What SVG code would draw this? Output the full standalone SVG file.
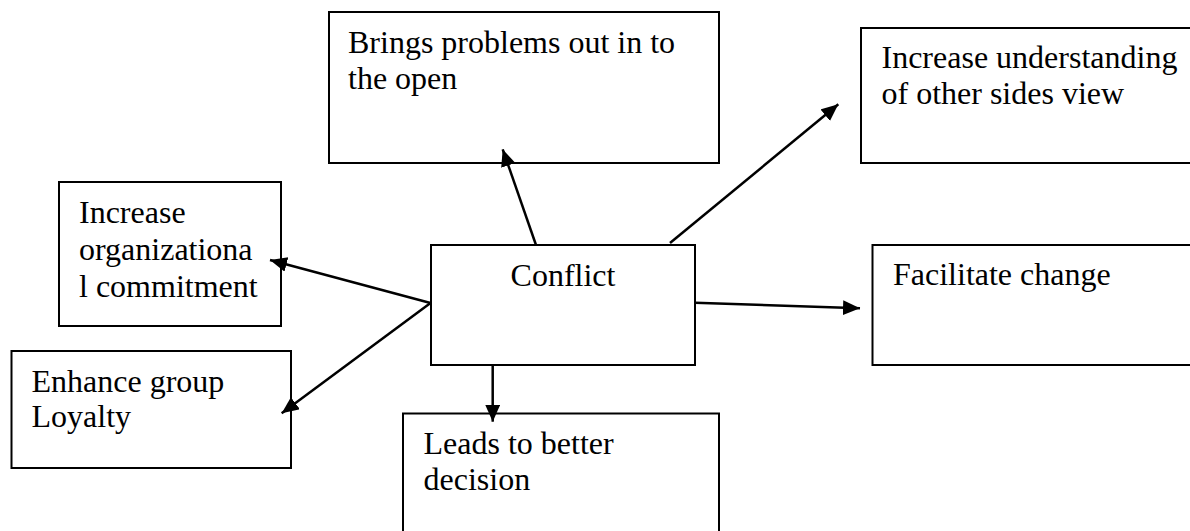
<svg xmlns="http://www.w3.org/2000/svg" width="1190" height="531" viewBox="0 0 1190 531">
  <style>
    .box { fill: #ffffff; stroke: #000000; stroke-width: 2; }
    .lbl { font-family: "Liberation Serif", "Times New Roman", serif; font-size: 32px; fill: #000000; }
    .conn { stroke: #000000; stroke-width: 2.5; fill: none; marker-end: url(#arrow); }
  </style>
  <defs>
    <marker id="arrow" markerUnits="userSpaceOnUse" markerWidth="20" markerHeight="16" refX="17" refY="7.5" orient="auto">
      <path d="M0,0 L17,7.5 L0,15 z" fill="#000000"/>
    </marker>
  </defs>
  <rect width="1190" height="531" fill="#ffffff"/>

  <g id="node-brings">
    <rect class="box" x="329" y="12" width="390" height="151"/>
    <text class="lbl" x="348" y="53">Brings problems out in to</text>
    <text class="lbl" x="348" y="89">the open</text>
  </g>

  <g id="node-understanding">
    <rect class="box" x="861" y="28" width="340" height="135"/>
    <text class="lbl" x="881.5" y="68">Increase understanding</text>
    <text class="lbl" x="881.5" y="104">of other sides view</text>
  </g>

  <g id="node-organizational">
    <rect class="box" x="59" y="182" width="222" height="144"/>
    <text class="lbl" x="79" y="223">Increase</text>
    <text class="lbl" x="79" y="260">organizationa</text>
    <text class="lbl" x="79" y="296.5">l commitment</text>
  </g>

  <g id="node-conflict">
    <rect class="box" x="431" y="245" width="264" height="120"/>
    <text class="lbl" x="563" y="286" text-anchor="middle">Conflict</text>
  </g>

  <g id="node-facilitate">
    <rect class="box" x="872.5" y="245" width="330" height="120"/>
    <text class="lbl" x="893" y="285">Facilitate change</text>
  </g>

  <g id="node-enhance">
    <rect class="box" x="11.5" y="351" width="279.5" height="117"/>
    <text class="lbl" x="31.5" y="391.5">Enhance group</text>
    <text class="lbl" x="31.5" y="426.5">Loyalty</text>
  </g>

  <g id="node-leads">
    <rect class="box" x="403" y="413.5" width="316" height="140"/>
    <text class="lbl" x="423.5" y="453.5">Leads to better</text>
    <text class="lbl" x="423.5" y="490">decision</text>
  </g>

  <g id="connectors">
    <line class="conn" x1="536" y1="245" x2="502.7" y2="149.3"/>
    <line class="conn" x1="670" y1="243" x2="838.3" y2="104.3"/>
    <line class="conn" x1="695" y1="302.7" x2="860" y2="308.3"/>
    <line class="conn" x1="430.5" y1="303" x2="270" y2="260"/>
    <line class="conn" x1="430.5" y1="303" x2="281.7" y2="413.3"/>
    <line class="conn" x1="492.7" y1="365" x2="492.7" y2="421.7"/>
  </g>
</svg>
